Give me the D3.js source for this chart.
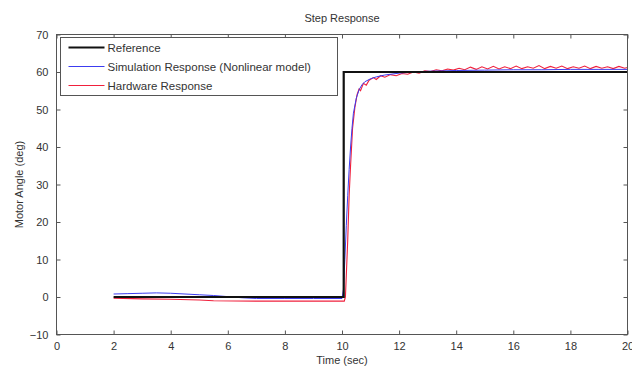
<!DOCTYPE html>
<meta charset="utf-8" />
<style>
  body { margin: 0; background: #fff; }
  svg { display: block; font-family: "Liberation Sans", Arial, sans-serif; }
  .tick text { fill: #333; font-size: 11px; }
  .tick line { stroke: #555; }
  .frame { fill: none; stroke: #555; stroke-width: 1; }
</style>
<svg width="632" height="367"></svg>
<script src="https://d3js.org/d3.v7.min.js"></script>
<script>
  // step reference
  const refT = [2, 10.06, 10.06, 20];
  const refY = [0, 0, 60, 60];

  // simulation response (nonlinear model)
  const simT = [2, 2.5, 3, 3.5, 4, 4.5, 5, 5.5, 6, 6.5, 7, 8, 9, 10, 10.05, 10.1, 10.15, 10.2, 10.25, 10.3,
    10.35, 10.4, 10.5, 10.6, 10.7, 10.8, 11, 11.2, 11.5, 12, 12.5, 13, 14, 15, 16, 17, 18, 19, 20];
  const simY = [0.8, 0.9, 1.0, 1.1, 1.0, 0.8, 0.6, 0.4, 0.1, -0.2, -0.4, -0.4, -0.4, -0.4, 2, 10, 19, 27, 34, 40,
    45, 49, 53, 55.3, 56.6, 57.4, 58.2, 58.7, 59.2, 59.7, 60.0, 60.2, 60.4, 60.5, 60.6, 60.6, 60.7, 60.7, 60.7];

  // hardware response
  const hwT = [2, 3, 4, 5, 5.5, 7, 10.08, 10.12, 10.2, 10.25, 10.3, 10.37, 10.45, 10.53, 10.6, 10.65, 10.75,
    10.85, 10.95, 11.1, 11.2, 11.35, 11.5, 11.7, 11.9, 12.1, 12.3, 12.5, 12.7, 12.9, 13.1, 13.3, 13.5, 13.7,
    13.9, 14.1, 14.3, 14.5, 14.7, 14.9, 15.1, 15.3, 15.5, 15.7, 15.9, 16.1, 16.3, 16.5, 16.7, 16.9, 17.1,
    17.3, 17.5, 17.7, 17.9, 18.1, 18.3, 18.5, 18.7, 18.9, 19.1, 19.3, 19.5, 19.7, 19.9, 20];
  const hwY = [-0.3, -0.5, -0.6, -0.8, -1.0, -1.1, -1.1, 0, 15, 27, 35, 45, 50.5, 54, 55.5, 55, 57,
    56.5, 57.8, 58.5, 58, 59, 58.6, 59.3, 59, 59.6, 59.4, 60, 59.7, 60.3, 60.1, 60.6, 60.3, 60.8,
    60.5, 61.0, 60.6, 61.3, 60.7, 61.4, 60.8, 61.5, 60.8, 61.4, 60.9, 61.6, 60.9, 61.4, 61.0, 61.7, 60.9,
    61.5, 61.0, 61.6, 60.9, 61.4, 61.0, 61.6, 60.9, 61.5, 61.0, 61.4, 60.9, 61.5, 61.0, 61.2];

  const xTicks = d3.range(0, 21, 2);
  const yTicks = d3.range(-10, 71, 10);

  const legendItems = [
    { label: 'Reference', color: '#111', width: 2.2 },
    { label: 'Simulation Response (Nonlinear model)', color: '#3c3cf0', width: 1 },
    { label: 'Hardware Response', color: '#f0203c', width: 1 },
  ];

  const svg = d3.select('svg');

  const x = d3.scaleLinear().domain([0, 20]).range([56.5, 627.5]);
  const y = d3.scaleLinear().domain([-10, 70]).range([334.5, 34.5]);

  const line = d3.line().x(d => x(d[0])).y(d => y(d[1]));

  // axes, matlab style: ticks inside on all sides
  svg.append('g')
    .attr('transform', `translate(0,${y(-10)})`)
    .call(d3.axisBottom(x).tickValues(xTicks).tickSize(-4).tickPadding(8).tickFormat(d3.format('d')))
    .call(g => g.select('.domain').remove());
  svg.append('g')
    .attr('transform', `translate(0,${y(70)})`)
    .call(d3.axisTop(x).tickValues(xTicks).tickSize(-4).tickFormat(''))
    .call(g => g.select('.domain').remove());
  svg.append('g')
    .attr('transform', `translate(${x(0)},0)`)
    .call(d3.axisLeft(y).tickValues(yTicks).tickSize(-4).tickPadding(8).tickFormat(d3.format('d')))
    .call(g => g.select('.domain').remove());
  svg.append('g')
    .attr('transform', `translate(${x(20)},0)`)
    .call(d3.axisRight(y).tickValues(yTicks).tickSize(-4).tickFormat(''))
    .call(g => g.select('.domain').remove());

  // series
  svg.append('path')
    .datum(hwT.map((t, i) => [t, hwY[i]]))
    .attr('fill', 'none')
    .attr('stroke', legendItems[2].color)
    .attr('stroke-width', 1.1)
    .attr('d', line);

  svg.append('path')
    .datum(simT.map((t, i) => [t, simY[i]]))
    .attr('fill', 'none')
    .attr('stroke', legendItems[1].color)
    .attr('stroke-width', 1)
    .attr('d', line);

  svg.append('path')
    .datum(refT.map((t, i) => [t, refY[i]]))
    .attr('fill', 'none')
    .attr('stroke', legendItems[0].color)
    .attr('stroke-width', 2.2)
    .attr('d', line);

  svg.append('rect')
    .attr('class', 'frame')
    .attr('x', x(0))
    .attr('y', y(70))
    .attr('width', x(20) - x(0))
    .attr('height', y(-10) - y(70));

  // legend
  const lg = svg.append('g').attr('transform', 'translate(60.5,37.5)');
  lg.append('rect')
    .attr('width', 277)
    .attr('height', 58)
    .attr('fill', '#fff')
    .attr('stroke', '#555');
  const rows = lg.selectAll('g.row')
    .data(legendItems)
    .join('g')
    .attr('class', 'row')
    .attr('transform', (d, i) => `translate(0,${10 + i * 19})`);
  rows.append('line')
    .attr('x1', 8).attr('x2', 44)
    .attr('stroke', d => d.color)
    .attr('stroke-width', d => d.width);
  rows.append('text')
    .attr('x', 47)
    .attr('dy', '0.35em')
    .attr('font-size', 11.5)
    .attr('fill', '#333')
    .text(d => d.label);

  // titles
  svg.append('text')
    .attr('x', (x(0) + x(20)) / 2)
    .attr('y', 22)
    .attr('text-anchor', 'middle')
    .attr('font-size', 11)
    .attr('fill', '#333')
    .text('Step Response');

  svg.append('text')
    .attr('x', (x(0) + x(20)) / 2)
    .attr('y', 364)
    .attr('text-anchor', 'middle')
    .attr('font-size', 11)
    .attr('fill', '#333')
    .text('Time (sec)');

  svg.append('text')
    .attr('transform', `translate(23,${(y(70) + y(-10)) / 2}) rotate(-90)`)
    .attr('text-anchor', 'middle')
    .attr('font-size', 11)
    .attr('fill', '#333')
    .text('Motor Angle (deg)');
</script>
